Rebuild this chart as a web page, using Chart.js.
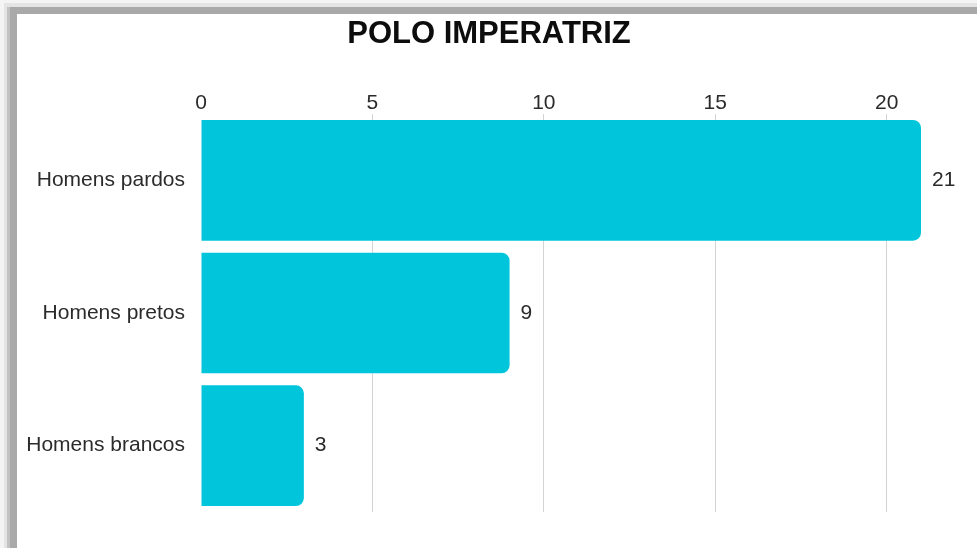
<!DOCTYPE html>
<html>
<head>
<meta charset="utf-8">
<script src="https://cdn.jsdelivr.net/npm/chart.js@4"></script>
<style>
    html, body { margin: 0; padding: 0; }
    body { width: 977px; height: 548px; background: #f4f4f4; overflow: hidden; position: relative; }
    #frame { position: absolute; left: 4px; top: 3px; right: 0; bottom: 0; background: #e4e4e4; }
    #frameDark { position: absolute; left: 7px; top: 7px; right: 0; bottom: 0; background: #a9a9a9; border-left: 3px solid #c2c2c2; }
    #box { position: absolute; left: 17px; top: 14px; width: 960px; height: 534px; background: #fff; }
    #chart { display: block; }
</style>
</head>
<body>
<div id="frame"></div>
<div id="frameDark"></div>
<div id="box"><canvas id="chart"></canvas></div>
<script>
const categories = ["Homens pardos", "Homens pretos", "Homens brancos"];
const values = [21, 9, 3];
const tickValues = [0, 5, 10, 15, 20];
const titleText = "POLO IMPERATRIZ";

const FONT = "'Liberation Sans', Arial, sans-serif";

// value labels next to each bar
const valueLabels = {
    id: "valueLabels",
    afterDatasetsDraw(chart) {
        const ctx = chart.ctx;
        const meta = chart.getDatasetMeta(0);
        ctx.save();
        ctx.font = "21px " + FONT;
        ctx.fillStyle = "#2b2b2b";
        ctx.textAlign = "left";
        ctx.textBaseline = "middle";
        meta.data.forEach((bar, i) => {
            ctx.fillText(String(values[i]), bar.x + 11, bar.y);
        });
        ctx.restore();
    },
};

new Chart(document.getElementById("chart"), {
    type: "bar",
    data: {
        labels: categories,
        datasets: [
            {
                data: values,
                backgroundColor: "#00c5db",
                borderRadius: 8,
                borderSkipped: "start",
                categoryPercentage: 1,
                barPercentage: 0.91,
            },
        ],
    },
    options: {
        indexAxis: "y",
        responsive: true,
        maintainAspectRatio: false,
        animation: false,
        layout: { padding: { left: 0, right: 16, top: 0, bottom: 36 } },
        plugins: {
            legend: { display: false },
            tooltip: { enabled: false },
            title: {
                display: true,
                text: titleText,
                color: "#0d0d0d",
                font: { family: FONT, size: 31, weight: "bold", lineHeight: 1.2 },
                padding: { top: 2, bottom: 0 },
            },
        },
        scales: {
            x: {
                position: "top",
                min: 0,
                max: 21,
                afterBuildTicks: (scale) => {
                    scale.ticks = tickValues.map((v) => ({ value: v }));
                },
                afterFit: (scale) => {
                    scale.height = 60.8;
                },
                grid: {
                    drawTicks: false,
                    color: (c) => (c.tick && c.tick.value === 0 ? "rgba(0,0,0,0)" : "#d3d3d3"),
                    lineWidth: 1,
                },
                border: { display: false },
                ticks: {
                    padding: -2,
                    color: "#2b2b2b",
                    font: { family: FONT, size: 21 },
                },
            },
            y: {
                afterFit: (scale) => {
                    scale.width = 184;
                },
                grid: { display: false },
                border: { display: false },
                ticks: {
                    padding: 8,
                    color: "#2b2b2b",
                    font: { family: FONT, size: 21 },
                },
            },
            yRight: {
                type: "category",
                labels: categories,
                position: "right",
                afterFit: (scale) => {
                    scale.width = 40;
                },
                grid: { display: false },
                border: { display: false },
                ticks: { display: false },
            },
        },
    },
    plugins: [valueLabels],
});
</script>
</body>
</html>
